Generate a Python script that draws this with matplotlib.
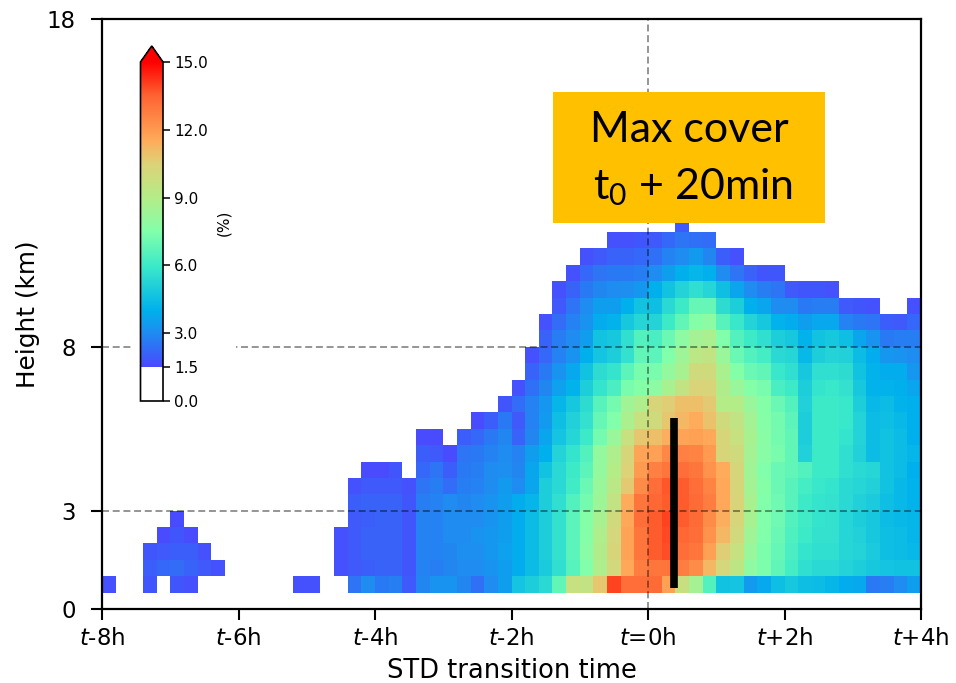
import numpy as np
import matplotlib
matplotlib.use("Agg")
import matplotlib.pyplot as plt
from matplotlib.colors import LinearSegmentedColormap, Normalize
from matplotlib.patches import Rectangle

plt.rcParams["font.family"] = "DejaVu Sans"
plt.rcParams["mathtext.default"] = "regular"

# cover (%) per 12 min column, listed from 0.5 km upward in 0.5 km steps
c00 = [1.7]
c03 = [1.8, 2.0, 1.8]
c04 = [0, 2.2, 1.9, 1.6]
c05 = [1.8, 2.3, 2.0, 1.8, 1.6]
c06 = [1.7, 2.1, 2.0, 1.6]
c07 = [0, 1.9, 1.7]
c08 = [0, 1.7]
c14 = [1.7]
c15 = [1.7]
c17 = [0, 1.7, 1.7, 1.7]
c18 = [2.5, 1.9, 1.9, 1.9, 1.9, 2, 1.7]
c19 = [3, 2, 2.1, 2.1, 2, 2.1, 1.9, 1.6]
c20 = [2.6, 2.1, 2.1, 2.1, 2.1, 2.1, 1.9, 1.6]
c21 = [2.7, 2.1, 2.1, 2.1, 2.1, 2.1, 1.9, 1.8]
c22 = [1.9, 1.8, 1.8, 1.8, 1.8, 1.8, 1.7]
c23 = [2.9, 2.8, 2.8, 2.8, 2.8, 2.7, 2.5, 2.2, 2, 1.6]
c24 = [3.2, 2.7, 2.8, 2.8, 2.8, 2.8, 2.7, 2.5, 1.9, 1.6]
c25 = [3.2, 2.9, 2.9, 3, 3, 3, 2.3, 2, 1.6]
c26 = [2.9, 3, 3.1, 3, 3, 2.9, 2.7, 2.6, 2.5, 2]
c27 = [2.4, 3, 3.1, 3.2, 3, 3, 2.8, 2.7, 2.6, 2.2, 1.6]
c28 = [3, 3.2, 3.3, 3.3, 3.2, 3.2, 3, 3, 2.8, 2.6, 2]
c29 = [3.5, 3.5, 3.6, 3.5, 3.5, 3.5, 3.4, 3.1, 3, 2.9, 2.6, 1.8]
c46 = [4.7, 9.4, 9.7, 10.1, 10.3, 10.4, 10.3, 10.3, 10, 9.7, 9.5, 9, 8.2, 7.6, 7, 6.5, 5.9, 5, 3.7, 2.5, 1.7]
c47 = [3.4, 7.9, 8.2, 8.4, 8.6, 8.7, 8.5, 8.4, 8.5, 8.6, 8.5, 8.2, 7.6, 7, 6.5, 6, 5.2, 4, 3, 2.1]
c48 = [3.8, 7.4, 7.4, 7.5, 7.5, 7.5, 7.6, 7.5, 7.7, 7.7, 7.6, 7.6, 7.3, 6.8, 6.2, 5.6, 4.8, 3.7, 2.7, 1.8]
c49 = [4.5, 6.8, 6.9, 7, 7.1, 7.1, 7, 7, 7.3, 7.2, 7.2, 7, 6.3, 5.9, 5.4, 5, 4.1, 3, 2.5, 1.8]
c50 = [4.8, 6.2, 6.3, 6.4, 6.5, 6.6, 6.6, 6.8, 6.8, 6.8, 6.7, 6.5, 6, 5.6, 5.3, 4.8, 3.9, 3, 1.9]
c51 = [4.5, 5.6, 5.8, 6, 6.1, 6, 6.2, 6.5, 5.1, 5, 5, 5.1, 5, 4.8, 4.3, 4.1, 3.5, 2.6, 1.8]
c52 = [4.4, 5.4, 5.6, 5.7, 5.8, 5.8, 5.9, 6, 6, 6, 6, 6, 5.8, 5.6, 5, 4.6, 3.8, 2.7, 1.8]
c53 = [4.2, 5.4, 5.6, 5.7, 5.7, 5.7, 5.8, 6, 6, 6, 6, 6, 5.9, 5.6, 5.2, 4.8, 3.8, 2.7, 1.7]
c54 = [3.9, 5.2, 5.3, 5.3, 5.3, 5.4, 5.4, 5.6, 5.6, 5.8, 5.9, 5.9, 5.7, 5.5, 5.1, 4.5, 2.8, 1.9]
c55 = [3.8, 5, 5.2, 5.1, 5, 5.1, 5.3, 5.4, 5.1, 5.2, 5.2, 5, 4.8, 4.6, 4.4, 3.7, 2.6, 1.8]
c56 = [2.6, 4.8, 4.9, 4.8, 4.8, 4.9, 5.1, 5.3, 4.4, 4.4, 4.4, 4.3, 4.1, 4.1, 3.9, 3.2, 2.5, 1.7]
c57 = [2.7, 4.7, 4.5, 4.5, 4.4, 4.5, 4.6, 4.6, 4.6, 4.6, 4.5, 4.4, 4.1, 3.9, 3.3, 2.6, 2]
c58 = [3, 4.6, 4.4, 4.4, 4.3, 4.3, 4.3, 4.4, 4.4, 4.4, 4.3, 4.1, 4, 3.9, 3.2, 2.7, 1.9]
c59 = [3.5, 4.6, 4.3, 4.2, 4.2, 4.1, 4.1, 4, 4.2, 4, 4, 4, 3.7, 3.3, 3, 2.7, 2.2, 1.7]

columns = {0: c00, 3: c03, 4: c04, 5: c05, 6: c06, 7: c07, 8: c08, 14: c14, 15: c15,
           17: c17, 18: c18, 19: c19, 20: c20, 21: c21, 22: c22, 23: c23, 24: c24,
           25: c25, 26: c26, 27: c27, 28: c28, 29: c29, 46: c46, 47: c47, 48: c48,
           49: c49, 50: c50, 51: c51, 52: c52, 53: c53, 54: c54, 55: c55, 56: c56,
           57: c57, 58: c58, 59: c59}

# central part, columns 30 to 45, one list per height (km x 10 in the name)
r005 = [4.7, 5, 5.4, 6.8, 9.7, 9.5, 10.8, 14, 13.2, 13.2, 13.3, 11.8, 9.8, 8.5, 6.5, 4.6]
r010 = [3.9, 4.4, 4.9, 5.6, 6.6, 7.5, 8.8, 10.1, 11.6, 12.8, 13, 13, 12.8, 12.4, 11.2, 10.2]
r015 = [3.9, 4.4, 5, 5.7, 6.7, 7.7, 8.9, 10.3, 11.7, 13, 13.6, 13.8, 13.2, 13, 11.8, 10.6]
r020 = [3.9, 4.4, 5, 5.7, 6.7, 7.6, 8.8, 10.2, 11.7, 13, 13.6, 13.9, 13.4, 13.2, 12.2, 11.2]
r025 = [3.9, 4.4, 5, 5.7, 6.7, 7.6, 8.6, 10, 11.6, 13.2, 13.6, 14, 13.6, 13.3, 12.4, 11.4]
r030 = [3.9, 4.2, 5, 5.6, 6.5, 7.2, 8.3, 9.5, 11.5, 13, 13.4, 13.6, 13.6, 13.3, 12.8, 11.6]
r035 = [3, 3.7, 5, 5.4, 6.1, 7, 8.2, 9.2, 10.7, 12.4, 13.2, 13.7, 13.6, 13.2, 12.6, 11.6]
r040 = [2.9, 3.7, 4.6, 5.4, 6, 6.7, 8, 9, 10.5, 12, 12.7, 13, 13.2, 13, 12.2, 11.5]
r045 = [2.8, 3.5, 4, 5.2, 5.8, 6.5, 8, 8.8, 10.3, 11.7, 11.8, 12.5, 12.7, 12.6, 12, 10.3]
r050 = [2.1, 2.9, 3.7, 4.7, 5.3, 6, 7.2, 8.2, 9.7, 10.8, 11, 11.4, 11.7, 11.8, 11.6, 10.3]
r055 = [1.9, 2.8, 3.4, 4.5, 5.1, 5.7, 6.9, 7.5, 8.7, 9.7, 10, 10.8, 11.2, 11.5, 10.9, 10]
r060 = [2.3, 2.8, 3.3, 4.2, 4.8, 5.5, 6.6, 7.2, 8.4, 8.8, 10.3, 10.6, 11, 11, 10.7, 9]
r065 = [1.7, 2.4, 2.9, 3.6, 4.1, 5, 5.8, 6.3, 7.3, 7.6, 7.8, 8.6, 9.5, 10.4, 10.4, 8.9]
r070 = [0, 2.1, 2.6, 3.2, 3.8, 4.6, 5.5, 5.8, 6.7, 7.3, 7.3, 8, 8.6, 10, 10, 8.7]
r075 = [0, 1.7, 2.2, 2.8, 3.2, 4, 4.7, 5, 5.7, 6.8, 6.7, 7.5, 8.3, 9.3, 9.5, 8.2]
r080 = [0, 0, 2.1, 2.7, 3, 3.5, 4.6, 4.8, 5.6, 6.5, 6.3, 7, 7.8, 8.5, 8.7, 7.5]
r085 = [0, 0, 1.7, 2.3, 2.8, 3.2, 3.9, 4.1, 4.8, 5.3, 5.2, 6, 6.8, 7.6, 7.8, 6.6]
r090 = [0, 0, 0, 1.9, 2.5, 3, 3.5, 3.5, 4, 4.6, 4.5, 5.4, 6, 6.9, 6.9, 5.5]
r095 = [0, 0, 0, 1.7, 2.1, 2.6, 2.9, 3, 3.1, 3.3, 4, 4.6, 5.2, 5.6, 5.3, 4.5]
r100 = [0, 0, 0, 0, 1.7, 2.2, 2.5, 2.6, 2.6, 2.7, 3, 3.5, 4, 4.2, 4, 3]
r105 = [0, 0, 0, 0, 0, 1.7, 1.9, 2.1, 2.1, 2.2, 2.4, 2.8, 3, 3.4, 2.9, 2]
r110 = [0, 0, 0, 0, 0, 0, 0, 1.7, 1.7, 1.8, 1.9, 2.2, 2.5, 2.4, 2.3, 0]
r115 = [0, 0, 0, 0, 0, 0, 0, 0, 0, 0, 0, 0, 1.9, 0, 0, 0]
centre_rows = [r005, r010, r015, r020, r025, r030, r035, r040, r045, r050, r055, r060,
               r065, r070, r075, r080, r085, r090, r095, r100, r105, r110, r115]

x_ticks = [-8, -6, -4, -2, 0, 2, 4]
x_labels = ["$\\mathit{t}$-8h", "$\\mathit{t}$-6h", "$\\mathit{t}$-4h", "$\\mathit{t}$-2h",
            "$\\mathit{t}$=0h", "$\\mathit{t}$+2h", "$\\mathit{t}$+4h"]
y_ticks = [0, 3, 8, 18]
cbar_ticks = [0, 1.5, 3, 6, 9, 12, 15]

grid = np.zeros((36, 60))
for col, values in columns.items():
    grid[1:1 + len(values), col] = values
grid[1:24, 30:46] = centre_rows
x_edges = np.linspace(-8, 4, 61)
y_edges = np.linspace(0, 18, 37)

stops = [(0, "#ffffff"), (0.1, "#ffffff"), (0.1, "#4a48ff"), (0.2, "#1e8cf0"),
         (0.267, "#00b0ec"), (0.4, "#3ceac8"), (0.5, "#82ffaa"), (0.6, "#b4ec88"),
         (0.7, "#dcd278"), (0.77, "#ffaa5a"), (0.9, "#ff6432"), (1, "#ff0000")]
cmap = LinearSegmentedColormap.from_list("cover", stops, N=512)
cmap.set_over("#ff0000")
norm = Normalize(0, 15)

W, H = 956, 683
fig = plt.figure(figsize=(W / 100, H / 100), dpi=100)
ax = fig.add_axes([102 / W, (H - 609) / H, 819 / W, 590 / H])
mesh = ax.pcolormesh(x_edges, y_edges, grid, cmap=cmap, norm=norm)

dash = (0, (3.6, 1.9))
ax.axhline(3, color="black", alpha=0.42, lw=1.4, ls=dash, zorder=3)
ax.axhline(8, color="black", alpha=0.42, lw=1.4, ls=dash, zorder=3)
ax.axvline(0, color="black", alpha=0.42, lw=1.4, ls=dash, zorder=3)
ax.plot([0.38, 0.38], [0.64, 5.82], color="black", lw=5.5, solid_capstyle="butt", zorder=4)

ax.set_xlim(-8, 4)
ax.set_ylim(0, 18)
ax.set_xticks(x_ticks)
ax.set_xticklabels(x_labels)
ax.set_yticks(y_ticks)
ax.tick_params(labelsize=16.5, length=8, width=1.5, pad=5)
ax.tick_params(axis="y", pad=11)
ax.set_xlabel("STD transition time", fontsize=18.5, labelpad=6)
ax.set_ylabel("Height (km)", fontsize=17.8, labelpad=5)
for side in ax.spines.values():
    side.set_linewidth(1.6)

# white backing behind the colourbar, it hides the dashed line at 8 km
ax.add_patch(Rectangle((133 / W, (H - 410) / H), 103 / W, 370 / H, transform=fig.transFigure,
                       facecolor="white", edgecolor="none", zorder=3.5))

cax = fig.add_axes([140.5 / W, (H - 401) / H, 22.5 / W, 355 / H], zorder=5)
cbar = fig.colorbar(mesh, cax=cax, extend="max", extendfrac=16 / 339, ticks=cbar_ticks)
cbar.ax.set_yticklabels([f"{v:.1f}" for v in cbar_ticks])
cbar.ax.tick_params(labelsize=11, length=5, width=1.1, pad=3)
cbar.outline.set_linewidth(1.2)
fig.text(224 / W, (H - 223) / H, "(%)", rotation=90, fontsize=11, ha="center", va="center", zorder=6)

# orange annotation box on top of everything
fig.patches.append(Rectangle((553 / W, (H - 223) / H), 272 / W, 131 / H, transform=fig.transFigure,
                             figure=fig, facecolor="#ffc000", edgecolor="none", zorder=6))
fig.text(689 / W, (H - 130) / H, "Max cover", family="Lato", fontsize=31, ha="center", va="center", zorder=7)
fig.text(693 / W, (H - 187) / H, "t$_0$ + 20min", family="Lato", fontsize=31, ha="center", va="center", zorder=7)

fig.savefig("out.png", dpi=100)
